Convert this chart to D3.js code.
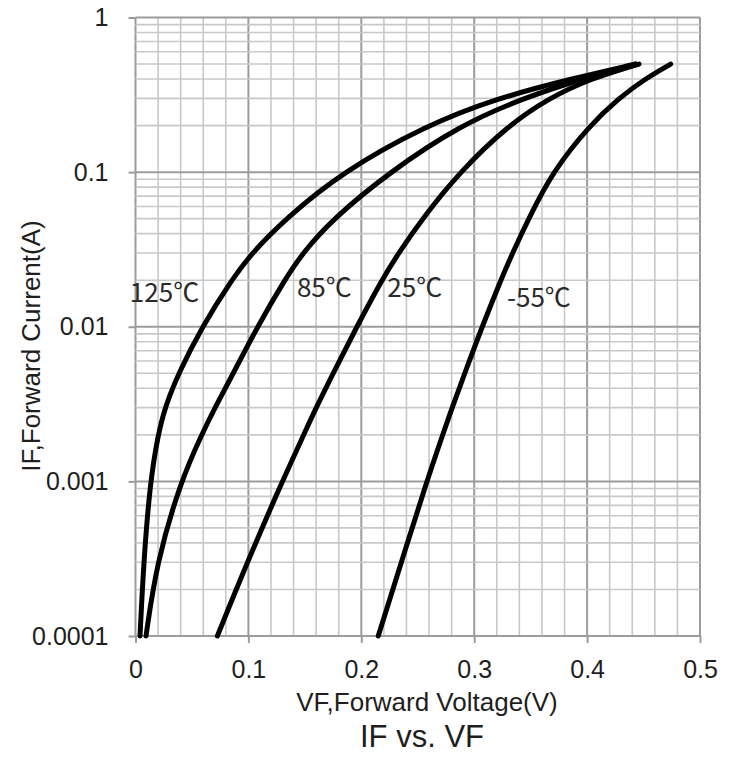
<!DOCTYPE html>
<html>
<head>
<meta charset="utf-8">
<script src="https://cdn.jsdelivr.net/npm/d3@7"></script>
<style>
  body { margin: 0; background: #fff; }
  svg { display: block; }
  .tick text { font-family: "Liberation Sans", Arial, sans-serif; font-size: 25px; fill: #1e1e1e; }
  .label { font-family: "Liberation Sans", Arial, sans-serif; fill: #1e1e1e; }
  .temp { font-family: "Noto Sans CJK SC", "Noto Sans", sans-serif; font-size: 26px; fill: #2a2a2a; }
</style>
</head>
<body>
<svg id="chart"></svg>
<script>
// forward current points (A), shared by all curves
const currents = [1e-4, 3e-4, 1e-3, 2e-3, 3e-3, 5e-3, 1e-2, 2e-2, 3e-2, 5e-2, 0.1, 0.2, 0.3, 0.4, 0.5];
// forward voltage (V) for each temperature
const vf125 = [0.004, 0.0072, 0.013, 0.020, 0.026, 0.038, 0.059, 0.085, 0.103, 0.133, 0.183, 0.257, 0.320, 0.385, 0.443];
const vf85  = [0.0093, 0.0188, 0.040, 0.0586, 0.0704, 0.0866, 0.108, 0.132, 0.148, 0.175, 0.225, 0.287, 0.343, 0.395, 0.443];
const vf25  = [0.0725, 0.099, 0.130, 0.149, 0.160, 0.175, 0.196, 0.218, 0.233, 0.254, 0.287, 0.330, 0.366, 0.402, 0.446];
const vfm55 = [0.215, 0.2355, 0.258, 0.2721, 0.2805, 0.2916, 0.307, 0.3235, 0.334, 0.3482, 0.3692, 0.402, 0.428, 0.451, 0.474];

const tempNames = ["125℃", "85℃", "25℃", "-55℃"];
// label anchors in data units (V, A)
const labelV = [-0.005, 0.143, 0.223, 0.329];
const labelI = [0.0145, 0.0156, 0.0156, 0.0134];

const xTicks = [0, 0.1, 0.2, 0.3, 0.4, 0.5];
const yTicks = [1e-4, 1e-3, 1e-2, 0.1, 1];

const w = 735, h = 766;
const padLeft = 135.5, padRight = 700, padTop = 17.5, padBottom = 636;

const svg = d3.select("#chart").attr("width", w).attr("height", h);

const x = d3.scaleLinear().domain([0, 0.5]).range([padLeft, padRight]);
const y = d3.scaleLog().domain([1e-4, 1]).range([padBottom, padTop]);

// grid lines
const vLines = d3.range(0, 26).map(i => +(i * 0.02).toFixed(2));
const hLines = [];
[1e-4, 1e-3, 1e-2, 0.1].forEach(d => {
    for (let k = 1; k <= 9; k++) hLines.push({v: k * d, major: k === 1});
});
hLines.push({v: 1, major: true});

const isMajorV = d => Math.round(d * 100) % 10 === 0;

const grid = svg.append("g");
grid.selectAll(".vline")
    .data(vLines)
    .join("line")
    .attr("x1", d => x(d)).attr("x2", d => x(d))
    .attr("y1", padTop).attr("y2", padBottom)
    .attr("stroke", d => isMajorV(d) ? "#9c9c9c" : "#c8c8c8")
    .attr("stroke-width", d => isMajorV(d) ? 2 : 1.6);

grid.selectAll(".hline")
    .data(hLines)
    .join("line")
    .attr("x1", padLeft).attr("x2", padRight)
    .attr("y1", d => y(d.v)).attr("y2", d => y(d.v))
    .attr("stroke", d => d.major ? "#9c9c9c" : "#c8c8c8")
    .attr("stroke-width", d => d.major ? 2 : 1.6);

//X axis
const xAxis = svg.append("g")
    .attr("transform", "translate(0," + padBottom + ")")
    .call(d3.axisBottom(x).tickValues(xTicks).tickSize(7).tickPadding(17).tickFormat(d => String(d)));
xAxis.select(".domain").remove();
xAxis.selectAll(".tick line").attr("stroke", "#9c9c9c").attr("stroke-width", 2);

//Y axis
const yAxis = svg.append("g")
    .attr("transform", "translate(" + padLeft + ",0)")
    .call(d3.axisLeft(y).tickValues(yTicks).tickSize(7).tickPadding(20).tickFormat(d => String(d)));
yAxis.select(".domain").remove();
yAxis.selectAll(".tick line").attr("stroke", "#9c9c9c").attr("stroke-width", 2);

// curves (basis spline smooths the hand-read points)
const series = [vf125, vf85, vf25, vfm55];
const line = d3.line()
    .x(d => x(d[0]))
    .y(d => y(d[1]))
    .curve(d3.curveBasis);

svg.append("g")
    .selectAll("path")
    .data(series)
    .join("path")
    .attr("d", s => line(s.map((v, i) => [v, currents[i]])))
    .attr("fill", "none")
    .attr("stroke", "#000")
    .attr("stroke-width", 5)
    .attr("stroke-linecap", "round");

// temperature labels
svg.append("g")
    .selectAll("text")
    .data(tempNames)
    .join("text")
    .attr("class", "temp")
    .attr("x", (d, i) => x(labelV[i]))
    .attr("y", (d, i) => y(labelI[i]))
    .text(d => d);

// axis titles
svg.append("text")
    .attr("class", "label")
    .attr("x", 427)
    .attr("y", 711)
    .attr("text-anchor", "middle")
    .style("font-size", "26px")
    .text("VF,Forward Voltage(V)");

svg.append("text")
    .attr("class", "label")
    .attr("transform", "translate(40,346) rotate(-90)")
    .attr("text-anchor", "middle")
    .style("font-size", "26px")
    .text("IF,Forward Current(A)");

svg.append("text")
    .attr("class", "label")
    .attr("x", 422)
    .attr("y", 747)
    .attr("text-anchor", "middle")
    .style("font-size", "31px")
    .text("IF vs. VF");
</script>
</body>
</html>
